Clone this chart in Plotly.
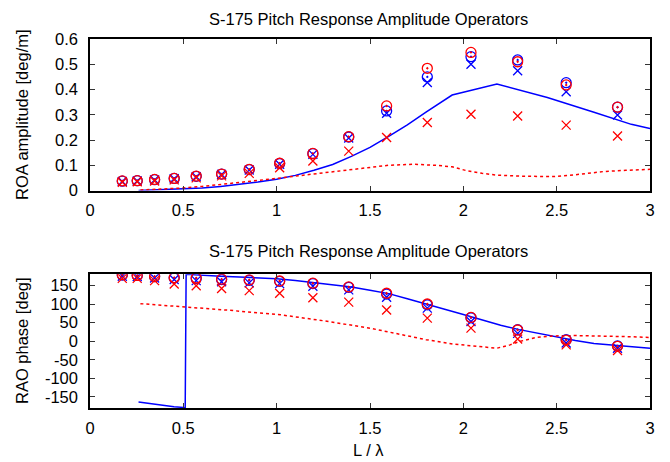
import plotly.graph_objects as go
from plotly.subplots import make_subplots

# ---- data ----
L_exp = [0.173, 0.253, 0.346, 0.451, 0.569, 0.705, 0.853, 1.016, 1.194, 1.386,
         1.589, 1.807, 2.041, 2.291, 2.551, 2.826]

amp_red_circle = [0.038, 0.039, 0.044, 0.048, 0.057, 0.065, 0.084, 0.108, 0.147, 0.213,
                  0.335, 0.484, 0.547, 0.510, 0.418, 0.330]
amp_blue_circle = [0.037, 0.039, 0.043, 0.048, 0.056, 0.065, 0.083, 0.107, 0.146, 0.212,
                   0.315, 0.450, 0.530, 0.517, 0.427, 0.330]
amp_blue_x = [0.036, 0.038, 0.042, 0.047, 0.055, 0.064, 0.081, 0.104, 0.143, 0.208,
              0.306, 0.428, 0.500, 0.474, 0.391, 0.299]
amp_red_x = [0.033, 0.035, 0.038, 0.042, 0.050, 0.058, 0.068, 0.090, 0.117, 0.156,
             0.210, 0.269, 0.302, 0.295, 0.259, 0.216]

ph_red_circle = [179, 177, 174, 171, 170, 167, 165, 162, 156, 146, 129, 100, 64, 30, 3, -14]
ph_blue_circle = [178, 177, 174, 170, 169, 166, 164, 161, 155, 145, 127, 98, 63, 31, 4, -13]
ph_blue_x = [175, 174, 170, 166, 163, 160, 157, 155, 148, 138, 118, 89, 53, 21, -5, -19]
ph_red_x = [169, 169, 163, 154, 149, 142, 136, 129, 117, 105, 84, 62, 35, 6, -10, -25]

L_amp_blue = [0.26, 0.4, 0.5, 0.6, 0.7, 0.8, 0.9, 1.0, 1.1, 1.2, 1.3, 1.4, 1.5, 1.6, 1.7,
              1.8, 1.94, 2.18, 2.45, 2.7, 2.9, 3.0]
amp_blue_line = [0.0, 0.003, 0.006, 0.010, 0.016, 0.024, 0.034, 0.045, 0.060, 0.080, 0.103,
                 0.135, 0.171, 0.214, 0.260, 0.310, 0.378, 0.422, 0.368, 0.310, 0.262, 0.245]

L_amp_red = [0.27, 0.4, 0.5, 0.6, 0.75, 0.9, 1.0, 1.1, 1.2, 1.3, 1.4, 1.5, 1.6, 1.73, 1.85,
             1.94, 2.02, 2.1, 2.18, 2.3, 2.48, 2.57, 2.65, 2.75, 2.87, 3.0]
amp_red_line = [0.002, 0.006, 0.010, 0.016, 0.027, 0.040, 0.048, 0.057, 0.066, 0.075, 0.083,
                0.093, 0.100, 0.104, 0.100, 0.094, 0.078, 0.068, 0.061, 0.057, 0.055, 0.060,
                0.067, 0.075, 0.080, 0.084]

L_ph_blue = [0.26, 0.3, 0.35, 0.4, 0.45, 0.5, 0.51, 0.515, 0.6, 0.7, 0.8, 0.9, 1.0, 1.1,
             1.2, 1.3, 1.4, 1.5, 1.6, 1.7, 1.8, 1.9, 2.0, 2.1, 2.2, 2.3, 2.4, 2.5, 2.6,
             2.7, 2.8, 2.9, 3.0]
ph_blue_line = [-164, -167, -171, -174, -176.5, -178.5, -180, 180, 177, 174.5, 173, 171,
                168, 163, 157.5, 152, 146, 137, 128, 114, 101, 86, 72, 57, 43, 31, 21, 11,
                2, -6, -11, -16, -19]

L_ph_red = [0.27, 0.52, 0.75, 1.02, 1.25, 1.5, 1.65, 1.8, 1.95, 2.03, 2.1, 2.18, 2.25, 2.3,
            2.39, 2.48, 2.6, 2.75, 2.9, 3.0]
ph_red_line = [101, 92, 83, 71, 55, 35, 20, 4, -8, -12, -15, -19, -10, -1, 10, 14, 15, 14,
               12, 10]

x_ticks = [0, 0.5, 1, 1.5, 2, 2.5, 3]
x_tick_text = ["0", "0.5", "1", "1.5", "2", "2.5", "3"]
amp_ticks = [0, 0.1, 0.2, 0.3, 0.4, 0.5, 0.6]
amp_tick_text = ["0", "0.1", "0.2", "0.3", "0.4", "0.5", "0.6"]
ph_ticks = [-150, -100, -50, 0, 50, 100, 150]
ph_tick_text = ["-150", "-100", "-50", "0", "50", "100", "150"]

TITLE = "S-175 Pitch Response Amplitude Operators"

BLUE = "#0000ff"
RED = "#ff0000"
FONT = "Liberation Sans, Arial, sans-serif"
FS = 16.5

fig = make_subplots(rows=2, cols=1)


def add_markers(x, y, color, symbol, size, row):
    fig.add_trace(go.Scatter(x=x, y=y, mode="markers",
                             marker=dict(symbol=symbol, size=size, color=color,
                                         line=dict(color=color, width=1.3)),
                             showlegend=False, hoverinfo="skip"), row=row, col=1)


def add_line(x, y, color, dash, row):
    fig.add_trace(go.Scatter(x=x, y=y, mode="lines",
                             line=dict(color=color, width=1.5, dash=dash),
                             showlegend=False, hoverinfo="skip"), row=row, col=1)


# top
add_line(L_amp_blue, amp_blue_line, BLUE, "solid", 1)
add_line(L_amp_red, amp_red_line, RED, "dot", 1)
add_markers(L_exp, amp_blue_circle, BLUE, "circle-open-dot", 10, 1)
add_markers(L_exp, amp_blue_x, BLUE, "x-thin-open", 9, 1)
add_markers(L_exp, amp_red_circle, RED, "circle-open-dot", 10, 1)
add_markers(L_exp, amp_red_x, RED, "x-thin-open", 9, 1)

# bottom
add_line(L_ph_blue, ph_blue_line, BLUE, "solid", 2)
add_line(L_ph_red, ph_red_line, RED, "dot", 2)
add_markers(L_exp, ph_blue_circle, BLUE, "circle-open-dot", 10, 2)
add_markers(L_exp, ph_blue_x, BLUE, "x-thin-open", 9, 2)
add_markers(L_exp, ph_red_circle, RED, "circle-open-dot", 10, 2)
add_markers(L_exp, ph_red_x, RED, "x-thin-open", 9, 2)

axis_common = dict(showline=True, linecolor="black", linewidth=1.5, mirror="ticks",
                   ticks="inside", ticklen=5, tickwidth=1, tickcolor="#333333",
                   showgrid=False, zeroline=False,
                   tickfont=dict(family=FONT, size=FS, color="black"))

fig.update_xaxes(range=[0, 3], tickvals=x_ticks, ticktext=x_tick_text,
                 ticklabelstandoff=4, **axis_common)
fig.update_yaxes(ticklabelstandoff=7, **axis_common)
fig.update_yaxes(range=[0, 0.6], tickvals=amp_ticks, ticktext=amp_tick_text,
                 domain=[0.5894, 1.0], row=1, col=1)
fig.update_yaxes(range=[-180, 180], tickvals=ph_ticks, ticktext=ph_tick_text,
                 domain=[0.0, 0.3623], row=2, col=1)

ann_font = dict(family=FONT, size=FS, color="black")
annotations = [
    dict(text=TITLE, x=0.497, y=1.084, xref="paper", yref="paper", showarrow=False,
         font=ann_font, xanchor="center", yanchor="top"),
    dict(text=TITLE, x=0.497, y=0.426, xref="paper", yref="paper", showarrow=False,
         font=ann_font, xanchor="center", yanchor="middle"),
    dict(text="ROA amplitude [deg/m]", x=-0.1214, y=0.794, xref="paper", yref="paper",
         showarrow=False, textangle=-90, font=ann_font, xanchor="center", yanchor="middle"),
    dict(text="RAO phase [deg]", x=-0.1214, y=0.1816, xref="paper", yref="paper",
         showarrow=False, textangle=-90, font=ann_font, xanchor="center", yanchor="middle"),
    dict(text="L / λ", x=0.498, y=-0.114, xref="paper", yref="paper", showarrow=False,
         font=ann_font, xanchor="center", yanchor="middle"),
]

# page body has an 8px default margin, so the figure is 8px smaller and shifted
fig.update_layout(width=662, height=454, margin=dict(l=82, r=20, t=31, b=54),
                  plot_bgcolor="white", paper_bgcolor="white", showlegend=False,
                  annotations=annotations, font=dict(family=FONT, size=FS, color="black"))

fig.write_html("out.html")
